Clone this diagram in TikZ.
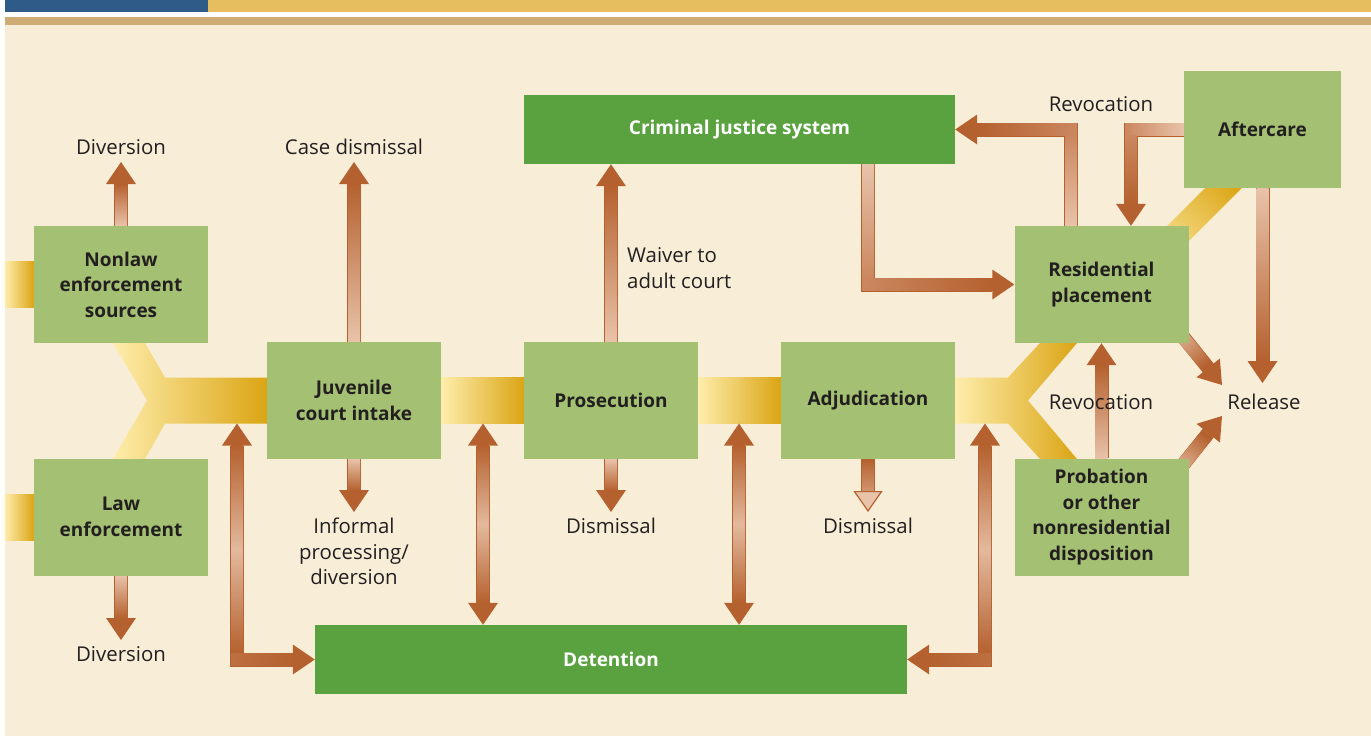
\documentclass[tikz,border=0pt]{standalone}
\usepackage{fontspec}
\setmainfont{Open Sans}
\usetikzlibrary{arrows.meta,calc}
\definecolor{cream}{HTML}{F8EED8}
\definecolor{tanbar}{HTML}{CFAB75}
\definecolor{topblue}{HTML}{2F5B88}
\definecolor{topyel}{HTML}{E6BE5F}
\definecolor{boxgreen}{HTML}{A3C073}
\definecolor{darkgreen}{HTML}{5AA23F}
\definecolor{arrdk}{HTML}{B5612F}
\definecolor{arrmd}{HTML}{CB875F}
\definecolor{arrlt}{HTML}{E8C3AA}
\definecolor{bandlight}{HTML}{FEEDAB}
\definecolor{bandgold}{HTML}{DBA514}
\definecolor{txt}{HTML}{231F20}
\pgfdeclarelayer{back}
\pgfdeclarelayer{bg}
\pgfdeclarelayer{arrlayer}
\pgfsetlayers{back,bg,arrlayer,main}
\begin{document}
\begin{tikzpicture}[x=1pt,y=-1pt,
  box/.style={rectangle, fill=boxgreen, minimum width=174pt, minimum height=117pt, inner sep=0pt, align=center, text=txt, font=\bfseries\fontsize{19}{25.5}\selectfont},
  dbox/.style={rectangle, fill=darkgreen, minimum height=69pt, inner sep=0pt, align=center, text=white, font=\bfseries\fontsize{19}{25.5}\selectfont},
  lbl/.style={inner sep=0pt, text=txt, font=\fontsize{20.4}{25.5}\selectfont},
  band/.style={left color=bandlight, right color=bandgold},
  tip/.tip={Triangle[length=22pt,width=30pt,line width=0pt,color=arrdk,fill=arrdk]},
  arr/.style={draw=arrdk, line width=14pt, -tip},
  darr/.style={draw=arrdk, line width=14pt, tip-tip},
  rarr/.style={draw=arrdk, line width=14pt, -{Triangle[length=21pt,width=29pt,line width=1.2pt,color=arrdk,fill=arrlt]}},
  up/.style={bottom color=arrlt, top color=arrdk},
  down/.style={top color=arrlt, bottom color=arrdk},
  updown/.style={top color=arrdk, bottom color=arrdk, middle color=arrlt!90!arrdk}
]
\useasboundingbox (0,0) rectangle (1371,736);
\begin{pgfonlayer}{back}
\fill[white] (0,0) rectangle (1371,736);
\fill[cream] (5,17) rectangle (1371,736);
\fill[tanbar] (5,17) rectangle (1371,25);
\fill[topblue] (5,0) rectangle (208,12);
\fill[topyel] (208,0) rectangle (1371,12);
\end{pgfonlayer}

% boxes
\node[box] (nonlaw) at (121,284.5) {Nonlaw\\enforcement\\sources};
\node[box] (law) at (121,517) {Law\\enforcement};
\node[box] (intake) at (354,400.5) {Juvenile\\court intake};
\node[box] (pros) at (611,400.5) {Prosecution};
\node[box] (adj) at (868,400.5) {Adjudication};
\node[box] (res) at (1101.5,284.5) {Residential\\placement};
\node[box] (prob) at (1101.5,517) {Probation\\or other\\nonresidential\\disposition};
\node[box, minimum width=157pt] (after) at (1262.5,129.5) {Aftercare};
\node[dbox, minimum width=431pt] (cjs) at (739.5,129.5) {Criminal justice system};
\node[dbox, minimum width=592pt] (det) at (611,659.5) {Detention};

% bands
\begin{pgfonlayer}{bg}
\shade[band] ([shift={(-29,-23)}]nonlaw.west) rectangle ([shift={(0,23)}]nonlaw.west);
\shade[band] ([shift={(-29,-23)}]law.west) rectangle ([shift={(0,23)}]law.west);
\shade[band] (113,343) -- (145,343) -- (165,377.5) -- (intake.west |- 0,377.5) -- (intake.west |- 0,423.5) -- (165,423.5) -- (145,459) -- (113,459) -- (147,400.5) -- cycle;
\shade[band] ([shift={(0,-23)}]intake.east) rectangle ([shift={(0,23)}]pros.west);
\shade[band] ([shift={(0,-23)}]pros.east) rectangle ([shift={(0,23)}]adj.west);
\shade[band] ([shift={(0,-23)}]adj.east) -- (1008,377.5) -- (1040,343) -- (1077,343) -- (1028,400.5) -- (1077,459) -- (1040,459) -- (1008,423.5) -- ([shift={(0,23)}]adj.east) -- cycle;
\shade[bottom color=bandlight, top color=bandgold, shading angle=-45] (1130.8,262.3) -- (1149.2,280.7) -- (1249.2,180.7) -- (1230.8,162.3) -- cycle;
\end{pgfonlayer}

% coordinates
\coordinate (tdiv1) at (121,162);
\coordinate (tdiv2) at (121,640);
\coordinate (tcase) at (354,162);
\coordinate (tinf) at (354,512);
\coordinate (tdis1) at (611,512);
\coordinate (tdis2) at (868,512);
\coordinate (trel) at (1262.5,383);
\coordinate (trelA) at (1222,385);
\coordinate (trelB) at (1222,416);
\coordinate (b1) at (237,423.5);
\coordinate (b2) at (483,423.5);
\coordinate (b3) at (739,423.5);
\coordinate (b4) at (985,423.5);

\begin{pgfonlayer}{arrlayer}
\draw[arr] (nonlaw.north) -- (tdiv1);
\draw[arr] (law.south) -- (tdiv2);
\draw[arr] (intake.north) -- (tcase);
\draw[arr] (intake.south) -- (tinf);
\draw[arr] (pros.north) -- (pros.north |- cjs.south);
\draw[arr] (pros.south) -- (tdis1);
\draw[rarr] (adj.south) -- (tdis2);
\draw[darr] (b1) |- (det.west);
\draw[darr] (b2) -- (b2 |- det.north);
\draw[darr] (b3) -- (b3 |- det.north);
\draw[darr] (b4) |- (det.east);
\draw[arr] (adj.south |- cjs.south) |- (res.west);
\draw[arr] ([xshift=-30.5]res.north) |- (cjs.east);
\draw[arr] (after.west) -| ([xshift=29.5]res.north);
\draw[arr] (after.south) -- (trel);
\draw[arr] ([shift={(-15,-18)}]res.south east) -- (trelA);
\draw[arr] ([shift={(-15,18)}]prob.north east) -- (trelB);
\draw[arr] (prob.north) -- (res.south);
% gradient shafts
\shade[up] (115,184) rectangle (127,226);
\shade[down] (115,575) rectangle (127,618);
\shade[up] (348,184) rectangle (360,342);
\shade[down] (348,459) rectangle (360,490);
\shade[up] (605,186) rectangle (617,342);
\shade[down] (605,459) rectangle (617,490);
\shade[top color=arrdk, bottom color=arrmd!80!arrlt] (862,459) rectangle (874,490.5);
\shade[updown] (231,445.5) rectangle (243,653.5);
\shade[left color=arrdk!85!arrlt, right color=arrdk] (231,653.5) rectangle (293,665.5);
\shade[updown] (477,445.5) rectangle (489,603);
\shade[updown] (733,445.5) rectangle (745,603);
\shade[updown] (979,445.5) rectangle (991,653.5);
\shade[right color=arrdk!85!arrlt, left color=arrdk] (929,653.5) rectangle (991,665.5);
\shade[top color=arrlt, bottom color=arrmd] (862,164) rectangle (874,278.5);
\shade[left color=arrmd, right color=arrdk] (862,278.5) rectangle (993,290.5);
\shade[bottom color=arrlt, top color=arrmd] (1065,135.5) rectangle (1077,226);
\shade[right color=arrmd, left color=arrdk] (977,123.5) rectangle (1077,135.5);
\shade[right color=arrlt, left color=arrmd] (1125,123.5) rectangle (1184,135.5);
\shade[top color=arrmd, bottom color=arrdk] (1125,135.5) rectangle (1137,204);
\shade[down] (1256.5,188) rectangle (1268.5,361);
\shade[up] (1095.5,365) rectangle (1107.5,459);
\shade[bottom color=arrlt, top color=arrdk, shading angle=-140.8] (1178.0,320.9) -- (1213.1,363.9) -- (1203.1,372.1) -- (1168.0,329.1) -- cycle;
\shade[bottom color=arrlt, top color=arrdk, shading angle=-38.7] (1178.1,481.1) -- (1213.3,437.3) -- (1203.1,429.1) -- (1167.9,472.9) -- cycle;
\end{pgfonlayer}

% labels
\node[lbl] (div1) at (121,147) {Diversion};
\node[lbl] (casd) at (354,147) {Case dismissal};
\node[lbl] (rev1) at (1101,104) {Revocation};
\node[lbl, anchor=west, align=left] (waiv) at (627,268) {Waiver to\\adult court};
\node[lbl] (rev2) at (1101,402) {Revocation};
\node[lbl] (rel) at (1264,402) {Release};
\node[lbl, align=center] (inf) at (354,551.5) {Informal\\processing/\\diversion};
\node[lbl] (dis1) at (611,526) {Dismissal};
\node[lbl] (dis2) at (868,526) {Dismissal};
\node[lbl] (div2) at (121,654) {Diversion};
\end{tikzpicture}
\end{document}
